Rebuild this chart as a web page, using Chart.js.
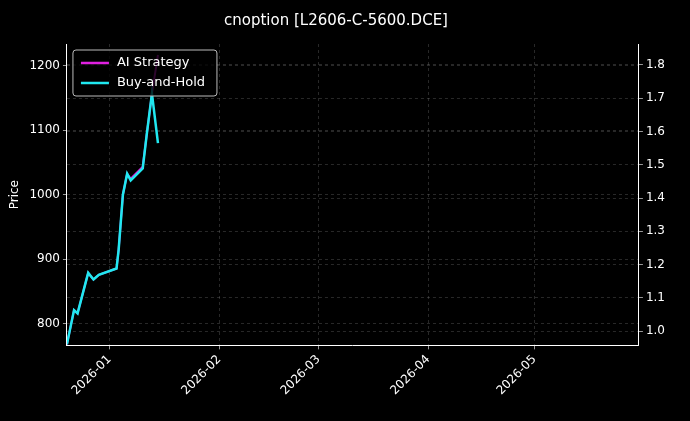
<!DOCTYPE html>
<html><head><script src="https://cdn.jsdelivr.net/npm/chart.js@4"></script>
<style>body{margin:0;background:#000}#c{width:690px;height:421px}</style></head>
<body><div id="c"><canvas id="cv"></canvas></div>
<script>
const days=[-12,-10,-9,-6,-4.5,-3,2,2.6,3.8,5,6,9.4,10.5,12,13.7];
const buyHold=[0.96,1.063,1.053,1.175,1.155,1.169,1.188,1.245,1.41,1.473,1.453,1.489,1.588,1.714,1.565];
const aiStrategy=[0.96,1.063,1.053,1.175,1.155,1.169,1.188,1.245,1.41,1.473,1.458,1.494,1.588,1.714,1.83];
const xTicks=[0,31,59,90,120];
const xTickLabels=['2026-01','2026-02','2026-03','2026-04','2026-05'];
const priceTicks=[800,900,1000,1100,1200];
const returnTicks=[1.0,1.1,1.2,1.3,1.4,1.5,1.6,1.7,1.8];
const pts=a=>a.map((v,i)=>({x:days[i],y:v}));
const legendPlugin={id:'lg',afterDraw(ch){const c=ch.ctx,a=ch.chartArea;const x=a.left+6,y=a.top+6;
c.save();c.fillStyle='rgba(0,0,0,0.8)';c.strokeStyle='#bbb';c.lineWidth=1;c.beginPath();c.roundRect(x,y,144,46,3);c.fill();c.stroke();
c.font='13px DejaVu Sans';c.textBaseline='middle';
[['AI Strategy','#e020e0'],['Buy-and-Hold','#20e8f0']].forEach((e,i)=>{const yy=y+13+i*20;c.strokeStyle=e[1];c.lineWidth=2.5;c.beginPath();c.moveTo(x+8,yy);c.lineTo(x+36,yy);c.stroke();c.fillStyle='#fff';c.fillText(e[0],x+44,yy);});
c.fillStyle='#fff';c.font='12px DejaVu Sans';c.textAlign='center';
c.translate(a.right+58,(a.top+a.bottom)/2);c.rotate(-Math.PI/2);c.fillText('Return',0,0);
c.restore();}};
const grid={color:'rgba(150,150,150,0.45)',lineWidth:0.6,drawTicks:true,tickColor:'#fff',tickLength:4};
const border={color:'#fff',dash:[3,3]};
new Chart(document.getElementById('cv'),{type:'line',plugins:[legendPlugin,{id:'bg',beforeDraw(ch){ch.ctx.fillStyle='#000';ch.ctx.fillRect(0,0,ch.width,ch.height);}}],
data:{datasets:[
{label:'Buy-and-Hold',data:pts(buyHold),borderColor:'#20e8f0',borderWidth:2.5,pointRadius:0,yAxisID:'y1',tension:0,order:1},
{label:'AI Strategy',data:pts(aiStrategy),borderColor:'#e020e0',borderWidth:2,pointRadius:0,yAxisID:'y1',tension:0,order:2}]},
options:{responsive:true,maintainAspectRatio:false,animation:false,
layout:{padding:{left:4,right:22,top:8,bottom:20}},
plugins:{legend:{display:false},tooltip:{enabled:false},title:{display:true,text:'cnoption [L2606-C-5600.DCE]',color:'#fff',font:{size:15,family:'DejaVu Sans',weight:'normal'},padding:{top:4,bottom:14}}},
scales:{
x:{type:'linear',min:-12,max:149.5,afterBuildTicks:s=>{s.ticks=xTicks.map(v=>({value:v}));},
ticks:{color:'#fff',font:{size:12,family:'DejaVu Sans'},maxRotation:45,minRotation:45,callback:v=>xTickLabels[xTicks.indexOf(v)]},
grid:grid,border:border},
y:{position:'left',min:766,max:1234,afterBuildTicks:s=>{s.ticks=priceTicks.map(v=>({value:v}));},
ticks:{color:'#fff',font:{size:12,family:'DejaVu Sans'},callback:v=>String(v)},grid:grid,border:border,
title:{display:true,text:'Price',color:'#fff',font:{size:12,family:'DejaVu Sans'}}},
y1:{position:'right',min:0.957,max:1.863,afterBuildTicks:s=>{s.ticks=returnTicks.map(v=>({value:v}));},
ticks:{color:'#fff',font:{size:12,family:'DejaVu Sans'},callback:v=>v.toFixed(1)},
grid:grid,border:border}
}}});
</script></body></html>
